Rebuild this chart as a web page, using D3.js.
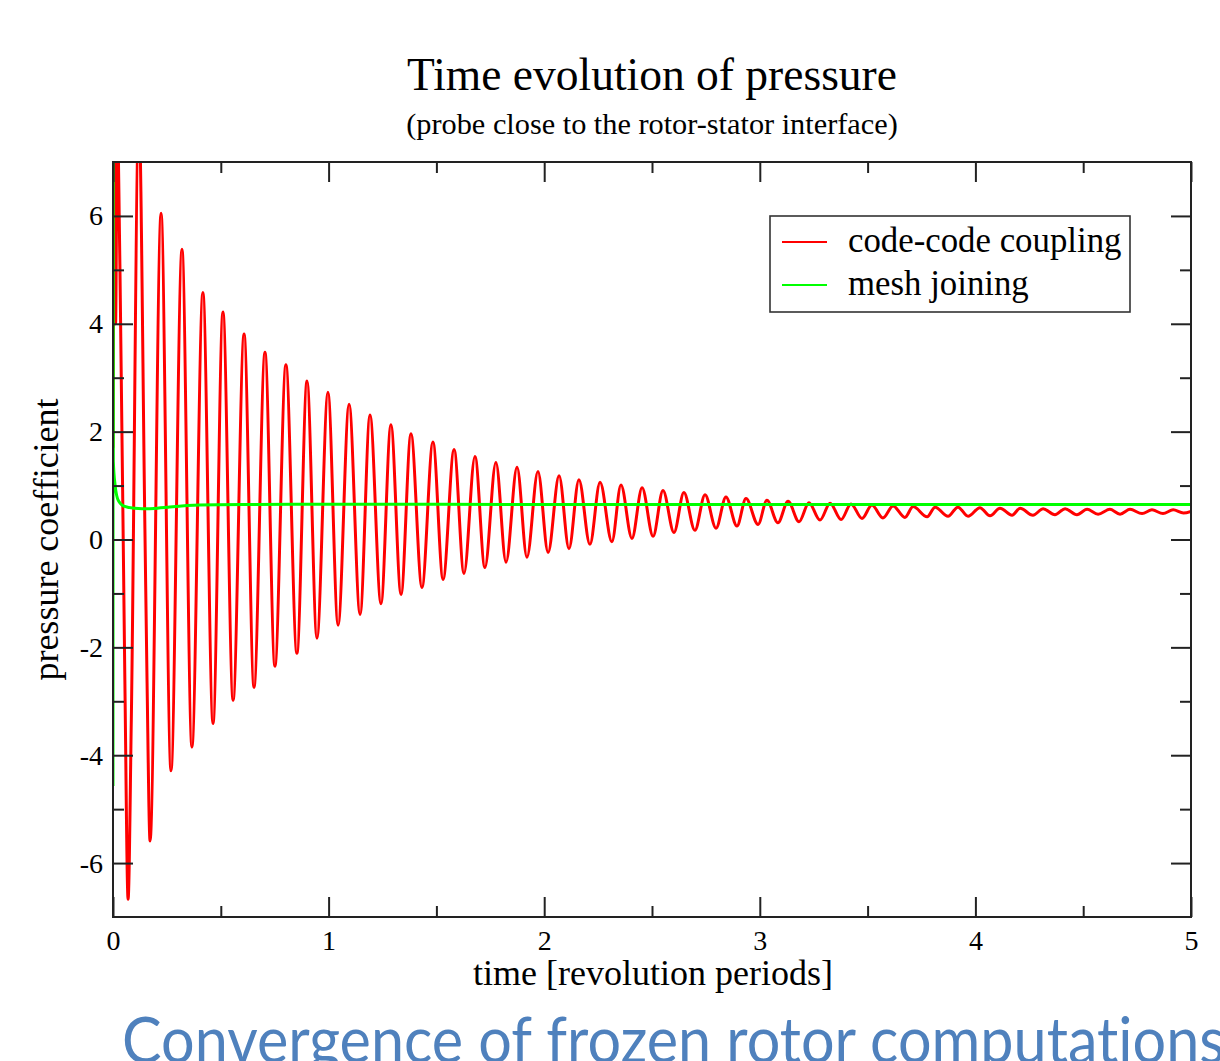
<!DOCTYPE html>
<html>
<head>
<meta charset="utf-8">
<script src="https://cdn.jsdelivr.net/npm/d3@7"></script>
<style>
  body { margin: 0; background: #fff; }
  text { font-family: "Liberation Serif", "Times New Roman", serif; fill: #000; }
</style>
</head>
<body>
<div id="chart"></div>
<script>

// extrema of the code-code coupling signal
let redTime = [
    0.000, 0.008, 0.012, 0.020, 0.032, 0.055, 0.070, 0.085, 0.120, 0.148, 0.158, 0.172,
    0.223, 0.269, 0.320, 0.366, 0.417, 0.464, 0.510, 0.557, 0.608, 0.654, 0.705, 0.751,
    0.802, 0.853, 0.900, 0.946, 0.997, 1.044, 1.095, 1.146, 1.192, 1.243, 1.289, 1.336,
    1.382, 1.433, 1.484, 1.531, 1.582, 1.628, 1.679, 1.725, 1.776, 1.823, 1.874, 1.920,
    1.971, 2.018, 2.069, 2.115, 2.161, 2.212, 2.259, 2.314, 2.356, 2.407, 2.454, 2.505,
    2.551, 2.602, 2.648, 2.699, 2.746, 2.797, 2.843, 2.894, 2.936, 2.992, 3.033, 3.084,
    3.131, 3.182, 3.228, 3.279, 3.326, 3.377, 3.423, 3.474, 3.520, 3.571, 3.618, 3.673,
    3.711, 3.776, 3.813, 3.873, 3.919, 3.966, 4.021, 4.068, 4.114, 4.170, 4.207, 4.267,
    4.314, 4.369, 4.416, 4.471, 4.518, 4.569, 4.624, 4.671, 4.717, 4.773, 4.819, 4.870,
    4.917, 4.965, 5.000
];
let redPressure = [
    1.7, 7.6, 4.0, 7.8, 5.1, -2.6, -6.67, -3.33, 7.9, 0.2, -2.65, -5.59,
    6.05, -4.29, 5.38, -3.85, 4.58, -3.41, 4.22, -2.98, 3.81, -2.74, 3.47, -2.35,
    3.24, -2.11, 2.94, -1.83, 2.73, -1.59, 2.51, -1.39, 2.31, -1.19, 2.13, -1.02,
    1.96, -0.89, 1.81, -0.74, 1.67, -0.63, 1.54, -0.52, 1.43, -0.42, 1.34, -0.33,
    1.26, -0.24, 1.18, -0.17, 1.11, -0.09, 1.06, -0.04, 1.01, 0.02, 0.96, 0.06,
    0.91, 0.13, 0.87, 0.17, 0.83, 0.21, 0.79, 0.25, 0.76, 0.28, 0.73, 0.31,
    0.71, 0.33, 0.68, 0.36, 0.67, 0.37, 0.66, 0.39, 0.64, 0.40, 0.62, 0.41,
    0.61, 0.42, 0.60, 0.43, 0.60, 0.43, 0.59, 0.44, 0.58, 0.45, 0.58, 0.45,
    0.57, 0.46, 0.57, 0.46, 0.56, 0.47, 0.56, 0.47, 0.56, 0.48, 0.55, 0.48,
    0.55, 0.49, 0.52
];

// mesh joining signal
let greenTime = [0, 0.0008, 0.0015, 0.01, 0.025, 0.05, 0.1, 0.17, 0.25, 0.4, 0.6, 1.0, 2.0, 3.0, 4.0, 5.0];
let greenPressure = [-4.57, 7.6, 1.45, 1.0, 0.72, 0.62, 0.58, 0.57, 0.6, 0.64, 0.65, 0.655, 0.65, 0.65, 0.65, 0.65];

let xMajor = [0, 1, 2, 3, 4, 5],
    xMinor = [0.5, 1.5, 2.5, 3.5, 4.5],
    yMajor = [-6, -4, -2, 0, 2, 4, 6],
    yMinor = [-5, -3, -1, 1, 3, 5];

let seriesNames = ["code-code coupling", "mesh joining"],
    seriesColors = ["#ff0000", "#00ff00"];

let W = 1220, H = 1061;
let margin = {top: 162, right: 29, bottom: 144, left: 113},
    width = W - margin.left - margin.right,
    height = H - margin.top - margin.bottom;

let svg = d3.select("#chart").append("svg")
    .attr("width", W)
    .attr("height", H);

let x = d3.scaleLinear().domain([0, 5]).range([0, width]);
let y = d3.scaleLinear().domain([-7, 7]).range([height, 0]);

let g = svg.append("g")
    .attr("transform", "translate(" + margin.left + "," + margin.top + ")");

g.append("clipPath").attr("id", "plotclip")
    .append("rect").attr("width", width).attr("height", height);

// curves
let line = d3.line()
    .x(function(d) { return x(d[0]); })
    .y(function(d) { return y(d[1]); })
    .curve(d3.curveMonotoneX);

let redData = d3.zip(redTime, redPressure),
    greenData = d3.zip(greenTime, greenPressure);

let plot = g.append("g").attr("clip-path", "url(#plotclip)");

plot.append("path")
    .datum(redData)
    .attr("fill", "none")
    .attr("stroke", seriesColors[0])
    .attr("stroke-width", 3)
    .attr("stroke-linejoin", "round")
    .attr("d", line);

plot.append("path")
    .datum(greenData)
    .attr("fill", "none")
    .attr("stroke", seriesColors[1])
    .attr("stroke-width", 3)
    .attr("d", line);

// axes with inward ticks
function styleAxis(sel) {
    sel.select(".domain").remove();
    sel.selectAll(".tick line").attr("stroke", "#222").attr("stroke-width", 2);
    sel.selectAll(".tick text")
        .style("font-family", "'Liberation Serif', serif")
        .style("font-size", "28px")
        .attr("fill", "#000");
}

let fmt = function(d) { return String(d); };

g.append("g").attr("transform", "translate(0," + height + ")")
    .call(d3.axisBottom(x).tickValues(xMajor).tickSize(-20).tickPadding(13).tickFormat(fmt))
    .call(styleAxis);
g.append("g").attr("transform", "translate(0," + height + ")")
    .call(d3.axisBottom(x).tickValues(xMinor).tickSize(-11).tickFormat(""))
    .call(styleAxis);
g.append("g")
    .call(d3.axisTop(x).tickValues(xMajor).tickSize(-20).tickFormat(""))
    .call(styleAxis);
g.append("g")
    .call(d3.axisTop(x).tickValues(xMinor).tickSize(-11).tickFormat(""))
    .call(styleAxis);
g.append("g")
    .call(d3.axisLeft(y).tickValues(yMajor).tickSize(-20).tickPadding(10).tickFormat(fmt))
    .call(styleAxis);
g.append("g")
    .call(d3.axisLeft(y).tickValues(yMinor).tickSize(-11).tickFormat(""))
    .call(styleAxis);
g.append("g").attr("transform", "translate(" + width + ",0)")
    .call(d3.axisRight(y).tickValues(yMajor).tickSize(-20).tickFormat(""))
    .call(styleAxis);
g.append("g").attr("transform", "translate(" + width + ",0)")
    .call(d3.axisRight(y).tickValues(yMinor).tickSize(-11).tickFormat(""))
    .call(styleAxis);

// frame
g.append("rect")
    .attr("width", width)
    .attr("height", height)
    .attr("fill", "none")
    .attr("stroke", "#222")
    .attr("stroke-width", 2);

// titles
svg.append("text")
    .attr("x", margin.left + width / 2)
    .attr("y", 90)
    .attr("text-anchor", "middle")
    .style("font-size", "45.5px")
    .text("Time evolution of pressure");

svg.append("text")
    .attr("x", margin.left + width / 2)
    .attr("y", 134)
    .attr("text-anchor", "middle")
    .style("font-size", "30.3px")
    .text("(probe close to the rotor-stator interface)");

svg.append("text")
    .attr("x", margin.left + width / 2 + 1)
    .attr("y", 985)
    .attr("text-anchor", "middle")
    .style("font-size", "36px")
    .text("time [revolution periods]");

svg.append("text")
    .attr("transform", "translate(58," + (margin.top + height / 2) + ") rotate(-90)")
    .attr("text-anchor", "middle")
    .style("font-size", "36px")
    .text("pressure coefficient");

// legend
let legend = svg.append("g").attr("transform", "translate(770,216)");
legend.append("rect")
    .attr("width", 360)
    .attr("height", 96)
    .attr("fill", "#fff")
    .attr("stroke", "#333")
    .attr("stroke-width", 1.6);

let item = legend.selectAll(".item")
    .data(seriesNames)
    .enter().append("g")
    .attr("class", "item")
    .attr("transform", function(d, i) { return "translate(0," + (26 + i * 43) + ")"; });

item.append("line")
    .attr("x1", 12).attr("x2", 57)
    .attr("stroke", function(d, i) { return seriesColors[i]; })
    .attr("stroke-width", 2);

item.append("text")
    .attr("x", 78)
    .attr("y", 10)
    .style("font-size", "34.8px")
    .text(function(d) { return d; });

// slide caption below the chart (cut by the bottom edge, as in the source)
svg.append("text")
    .attr("x", 122)
    .attr("y", 1063)
    .attr("textLength", 1103)
    .attr("lengthAdjust", "spacingAndGlyphs")
    .style("font-family", "Lato, 'Open Sans', sans-serif")
    .style("font-size", "64px")
    .style("font-variant-ligatures", "none")
    .style("fill", "#4f81bd")
    .text("Convergence of frozen rotor computations");

</script>
</body>
</html>
